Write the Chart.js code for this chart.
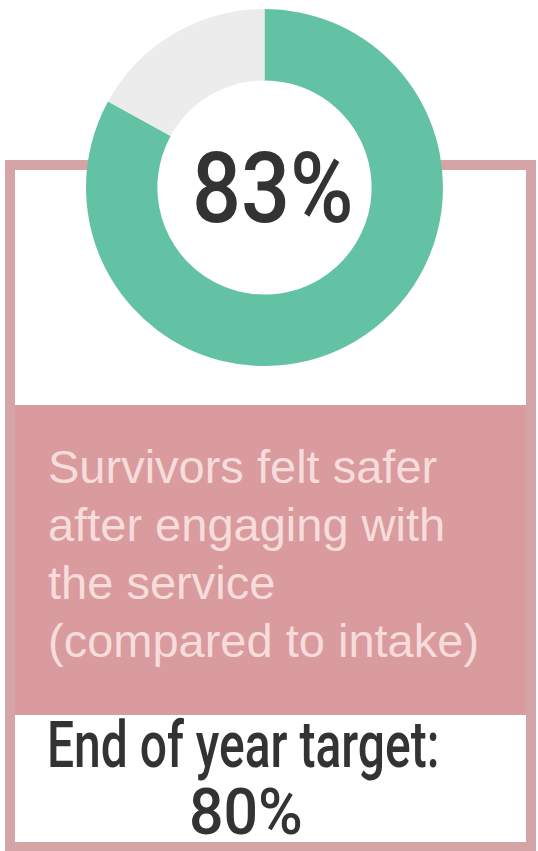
<!DOCTYPE html>
<html>
<head>
<meta charset="utf-8">
<script src="https://cdn.jsdelivr.net/npm/chart.js@4"></script>
<style>
  html, body { margin:0; padding:0; background:#fff; }
  body { width:538px; height:851px; position:relative; overflow:hidden; }
  #box { position:absolute; left:5px; top:160px; width:531px; height:692px; border:10px solid #d4a4a7; box-sizing:border-box; }
  #band { position:absolute; left:15px; top:405px; width:511px; height:310px; background:#d99b9e; }
  #desc { position:absolute; left:48px; top:438px; font-family:"Liberation Sans", Arial, sans-serif; font-size:47px; line-height:58px; color:#f7dcdc; white-space:nowrap; }
  #chartWrap { position:absolute; left:86px; top:9px; width:357px; height:357px; }
  .cond { position:absolute; font-family:Roboto, sans-serif; font-weight:500; color:#333; line-height:1; white-space:nowrap; transform-origin:0 0; }
  #pct { top:140px; font-size:98px; }
  #tgt1 { left:47px; top:714px; font-size:64px; }
  #tgt2 { top:781px; font-size:64px; }
</style>
</head>
<body>
<div id="box"></div>
<div id="band"></div>
<div id="desc">Survivors felt safer<br>after engaging with<br>the service<br>(compared to intake)</div>
<div id="chartWrap"><canvas id="donut" width="357" height="357"></canvas></div>
<div id="pct" class="cond">83%</div>
<div id="tgt1" class="cond">End of year target:</div>
<div id="tgt2" class="cond">80%</div>
<script>
// values
const labels = ['Felt safer', 'Did not'];
const values = [83, 17];
const colors = ['#63c2a4', '#ececec'];
const centerText = '83%';
const targetText = ['End of year target:', '80%'];

document.getElementById('pct').textContent = centerText;
document.getElementById('tgt1').textContent = targetText[0];
document.getElementById('tgt2').textContent = targetText[1];

// fill the hole white so the box border does not show through
const holeFill = {
  id: 'holeFill',
  beforeDatasetsDraw(chart) {
    const arc = chart.getDatasetMeta(0).data[0];
    if (!arc) return;
    const ctx = chart.ctx;
    ctx.save();
    ctx.beginPath();
    ctx.arc(arc.x, arc.y, arc.innerRadius + 1, 0, Math.PI * 2);
    ctx.fillStyle = '#fff';
    ctx.fill();
    ctx.restore();
  }
};

new Chart(document.getElementById('donut'), {
  type: 'doughnut',
  data: { labels, datasets: [{ data: values, backgroundColor: colors, borderWidth: 0 }] },
  options: {
    responsive: false, animation: false, cutout: '60%',
    layout: { padding: 0 },
    plugins: { legend: { display: false }, tooltip: { enabled: false } }
  },
  plugins: [holeFill]
});

// squeeze the condensed headings to the widths seen in the picture
function fit(id, width, left) {
  const el = document.getElementById(id);
  const s = width / el.offsetWidth;
  el.style.transform = 'scaleX(' + s + ')';
  if (left !== undefined) el.style.left = left + 'px';
}
document.fonts.ready.then(() => {
  fit('pct', 162, 192);
  fit('tgt1', 392, 47);
  fit('tgt2', 114, 189);
});
</script>
</body>
</html>
